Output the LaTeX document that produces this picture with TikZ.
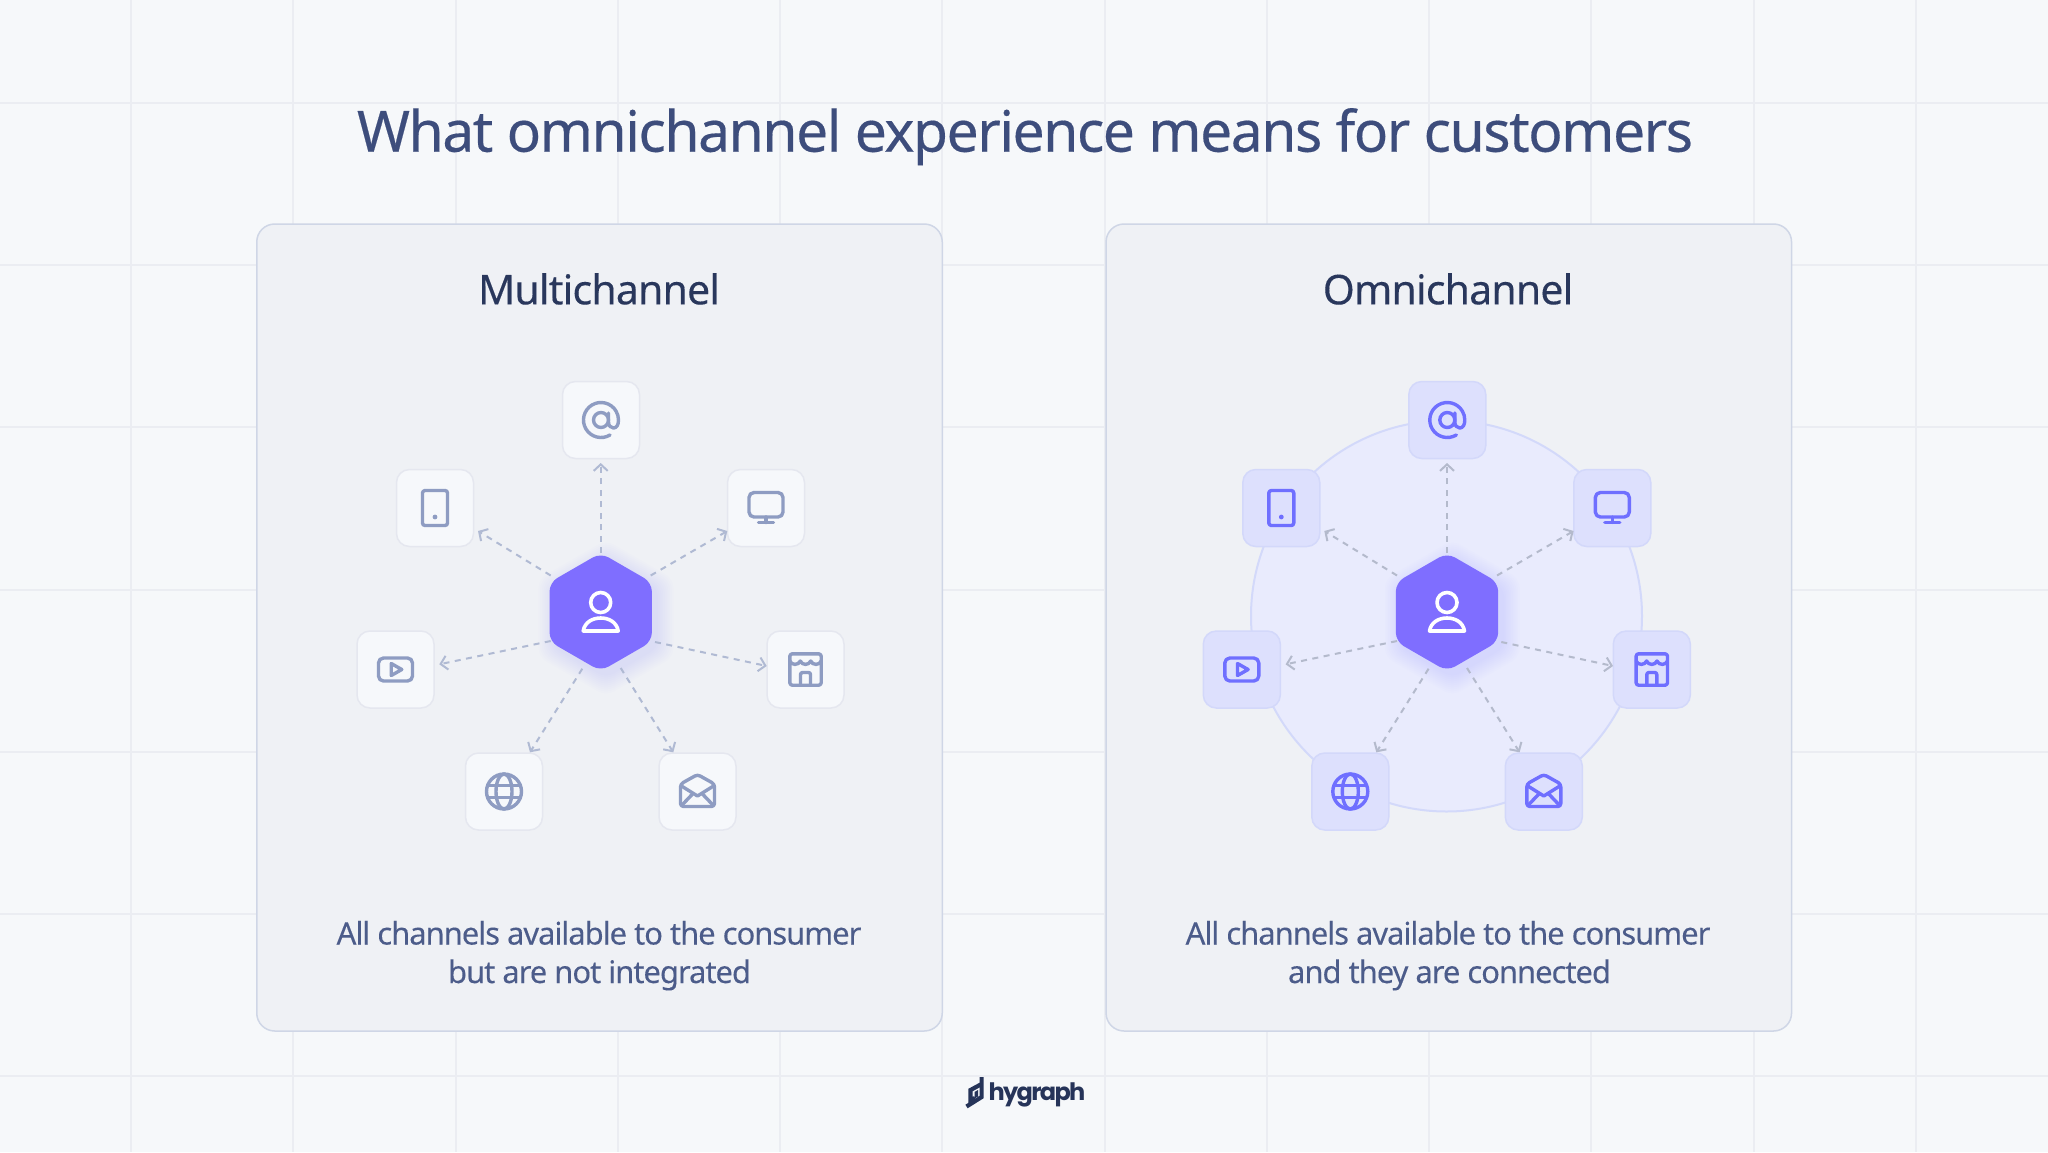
\documentclass[tikz,border=0pt]{standalone}
\usepackage{fontspec}
\setmainfont{Noto Sans}
\newfontfamily\titlefont[LetterSpace=-2.6,FakeBold=0.3]{Noto Sans}
\newfontfamily\headfont[LetterSpace=-2.0,FakeBold=0.25]{Noto Sans}
\newfontfamily\descfont[LetterSpace=-3.4,FakeBold=0.1]{Noto Sans}
\newfontfamily\logofont[LetterSpace=-7]{Poppins}
\usetikzlibrary{shapes.geometric,arrows.meta}
\definecolor{bgc}{HTML}{F6F8FA}
\definecolor{gridc}{HTML}{EBEDF2}
\definecolor{cardf}{HTML}{EFF1F5}
\definecolor{cards}{HTML}{CFD6E6}
\definecolor{hexc}{HTML}{7F6EFF}
\definecolor{titlec}{HTML}{3D4D7C}
\definecolor{headc}{HTML}{29375C}
\definecolor{descc}{HTML}{4C5C8A}
\definecolor{logoc}{HTML}{263459}
\definecolor{lbf}{HTML}{F6F8FB}
\definecolor{lbs}{HTML}{E5E7EF}
\definecolor{lic}{HTML}{8E9CC2}
\definecolor{ldash}{HTML}{B0BAD3}
\definecolor{rbf}{HTML}{DDE0FD}
\definecolor{rbs}{HTML}{D3D8FA}
\definecolor{ric}{HTML}{6F6FFF}
\definecolor{rdash}{HTML}{B4BACC}
\definecolor{circf}{HTML}{E9EBFD}
\definecolor{circs}{HTML}{D3D9FA}
\tikzset{
  x=1pt,y=-1pt,
  card/.style={rectangle,rounded corners=18pt,draw=cards,fill=cardf,line width=1.5pt,minimum width=685.5pt,minimum height=807pt,inner sep=0pt},
  chbox/.style={rectangle,rounded corners=13pt,line width=1.5pt,minimum size=77pt,inner sep=0pt},
  hexa/.style={regular polygon,regular polygon sides=6,regular polygon rotate=30,minimum size=118.2pt,inner sep=0pt,outer sep=0pt,fill=hexc,rounded corners=9pt},
  conn/.style={line width=2pt,dash pattern=on 6pt off 5.5pt,-{Straight Barb[length=6.5pt,width=14pt,line width=2pt]}},
  ico/.style={line width=3.4pt,line cap=round,line join=round},
  personico/.style={draw=white,line width=3.6pt,line cap=round,line join=round},
  titletext/.style={anchor=base,inner sep=0pt,text=titlec},
  headtext/.style={anchor=base,inner sep=0pt,text=headc},
  desctext/.style={anchor=base,inner sep=0pt,text=descc},
}
% #1 prefix, #2 xshift, #3 box fill, #4 box stroke, #5 icon colour, #6 dash colour
\newcommand{\channelpanel}[6]{%
\begin{scope}[xshift=#2pt]
  \foreach \i in {1,...,10}{
    \node[hexa,fill=hexc,fill opacity=0.013,minimum size={116pt+4pt*\i}] (#1glow\i) at (606,618) {};
  }
  \node[hexa] (#1hex) at (600.7,612) {};
  \begin{scope}[shift={(600.7,612)}]
    \draw[personico] (0,-9.5) circle[radius=10pt];
    \draw[personico] (-17.5,19) .. controls (-16,10) and (-8,6) .. (0,6) .. controls (8,6) and (16,10) .. (17.5,19) -- cycle;
  \end{scope}
  % channel boxes
  \node[chbox,fill=#3,draw=#4] (#1at) at (601,420) {};
  \node[chbox,fill=#3,draw=#4] (#1tab) at (435,508) {};
  \node[chbox,fill=#3,draw=#4] (#1mon) at (766,508) {};
  \node[chbox,fill=#3,draw=#4] (#1vid) at (395.5,669.5) {};
  \node[chbox,fill=#3,draw=#4] (#1sto) at (805.5,669.5) {};
  \node[chbox,fill=#3,draw=#4] (#1glo) at (504,791.5) {};
  \node[chbox,fill=#3,draw=#4] (#1mai) at (697.5,791.5) {};
  % connector ends
  \coordinate (#1sa) at (600.7,553);  \coordinate (#1ta) at (600.7,463);
  \coordinate (#1sb) at (550.7,575.5);\coordinate (#1tb) at (478,531);
  \coordinate (#1sc) at (650.7,575.5);\coordinate (#1tc) at (727.3,531);
  \coordinate (#1sd) at (550.7,641);  \coordinate (#1td) at (439.3,664.3);
  \coordinate (#1se) at (655,642);    \coordinate (#1te) at (766.7,666);
  \coordinate (#1sf) at (582.3,668.7);\coordinate (#1tf) at (530,752.3);
  \coordinate (#1sg) at (620.7,668);  \coordinate (#1tg) at (673.3,752.3);
  \foreach \k in {a,b,c,d,e,f,g}{
    \draw[conn,draw=#6] (#1s\k) -- (#1t\k);
  }
  % at sign
  \begin{scope}[shift={(#1at)},ico,draw=#5]
    \draw (0,0) circle[radius=7.5pt];
    \draw (9,15) arc[start angle=-59,end angle=-360,radius=17.5pt]
       .. controls (17.5,5) and (15.5,8) .. (12.5,8) .. controls (9.5,8) and (7.5,5.5) .. (7.5,2) -- (7.5,-7);
  \end{scope}
  % tablet
  \begin{scope}[shift={(#1tab)},ico,draw=#5]
    \draw[rounded corners=2.5pt] (-12.5,-17.5) rectangle (12.5,17.5);
    \fill[#5] (0,9) circle[radius=2.4pt];
  \end{scope}
  % monitor
  \begin{scope}[shift={(#1mon)},ico,draw=#5]
    \draw[rounded corners=5pt] (-17,-15.5) rectangle (17,9);
    \draw (0,9) -- (0,14.5);
    \draw (-7.5,14.5) -- (7.5,14.5);
  \end{scope}
  % video
  \begin{scope}[shift={(#1vid)},ico,draw=#5]
    \draw[rounded corners=5pt] (-17,-11.5) rectangle (17,11.5);
    \draw (-4.3,-6) -- (6.3,0) -- (-4.3,6) -- cycle;
  \end{scope}
  % store
  \begin{scope}[shift={(#1sto)},ico,draw=#5]
    \draw[rounded corners=2.5pt] (-15.7,-15.7) rectangle (15.7,15.7);
    \draw (-15.7,-8.5) .. controls (-14,-4) and (-7,-4) .. (-5.2,-8.5)
       .. controls (-3.5,-4) and (3.5,-4) .. (5.2,-8.5)
       .. controls (7,-4) and (14,-4) .. (15.7,-8.5);
    \draw[rounded corners=2pt] (-5,15.7) -- (-5,3) -- (5,3) -- (5,15.7);
  \end{scope}
  % globe
  \begin{scope}[shift={(#1glo)},ico,draw=#5]
    \draw (0,0) circle[radius=17.5pt];
    \draw (0,0) ellipse[x radius=8pt,y radius=17.5pt];
    \draw (-16,-6) -- (16,-6);
    \draw (-16,6) -- (16,6);
  \end{scope}
  % mail
  \begin{scope}[shift={(#1mai)},ico,draw=#5]
    \draw[rounded corners=3pt] (-17,-7.5) -- (0,-17) -- (17,-7.5) -- (17,15) -- (-17,15) -- cycle;
    \draw (-16,-5.5) -- (0,4.5) -- (16,-5.5);
    \draw (-14.5,12.5) -- (-4.5,2);
    \draw (14.5,12.5) -- (4.5,2);
  \end{scope}
\end{scope}}
\begin{document}
\begin{tikzpicture}
\useasboundingbox (0,0) rectangle (2048,1152);
\fill[bgc] (0,0) rectangle (2048,1152);
\foreach \gx in {131,293,456,618,780,942,1105,1267,1429,1591,1754,1916}{
  \draw[gridc,line width=2pt] (\gx,0) -- (\gx,1152);
}
\foreach \gy in {103,265,427,590,752,914,1076}{
  \draw[gridc,line width=2pt] (0,\gy) -- (2048,\gy);
}
\node[card] (cardL) at (599.5,627.5) {};
\node[card] (cardR) at (1448.8,627.5) {};
\node[circle,draw=circs,fill=circf,line width=2pt,minimum size=391pt,inner sep=0pt] (ring) at (1446.5,616) {};
\channelpanel{l}{0}{lbf}{lbs}{lic}{ldash}
\channelpanel{r}{846.3}{rbf}{rbs}{ric}{rdash}
\node[titletext,font=\titlefont\fontsize{57}{60}\selectfont] (title) at (1025,151.7) {What omnichannel experience means for customers};
\node[headtext,font=\headfont\fontsize{41}{46}\selectfont] (headL) at (599,304.3) {Multichannel};
\node[headtext,font=\headfont\fontsize{41}{46}\selectfont] (headR) at (1448,304.3) {Omnichannel};
\node[desctext,font=\descfont\fontsize{31}{36}\selectfont] (descLa) at (599,944.5) {All channels available to the consumer};
\node[desctext,font=\descfont\fontsize{31}{36}\selectfont] (descLb) at (599.5,983) {but are not integrated};
\node[desctext,font=\descfont\fontsize{31}{36}\selectfont] (descRa) at (1448,944.5) {All channels available to the consumer};
\node[desctext,font=\descfont\fontsize{31}{36}\selectfont] (descRb) at (1449.5,983) {and they are connected};
% logo
\draw[logoc,line width=4.2pt,line join=miter] (981.6,1077) -- (981.6,1097) -- (966.5,1106.5);
\draw[logoc,line width=4.2pt,line join=miter] (981.6,1084) -- (970.5,1090) -- (970.5,1100) -- (975,1098);
\fill[logoc] (974.5,1092) -- (978,1090) -- (978,1096.5) -- (974.5,1098.5) -- cycle;
\node[anchor=base,inner sep=0pt,text=logoc,font=\logofont\bfseries\fontsize{24}{28}\selectfont] (logo) at (1037,1100) {hygraph};
\end{tikzpicture}
\end{document}
